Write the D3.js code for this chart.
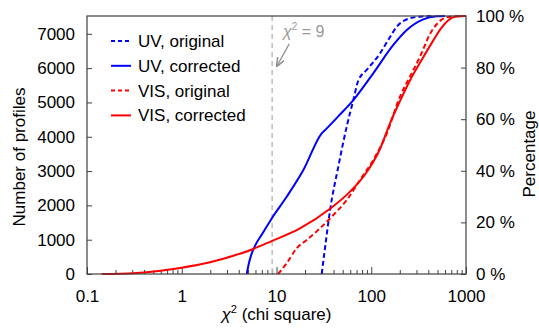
<!DOCTYPE html>
<html>
<head>
<meta charset="utf-8">
<script src="https://cdn.jsdelivr.net/npm/d3@7"></script>
<style>
    body { margin: 0; background: #fff; }
</style>
</head>
<body>
<svg id="chart" width="539" height="328" font-family="Liberation Sans, Arial, sans-serif"></svg>
<script>
// chi^2 value, number of profiles
const uvOriginal = [[30, 0], [33, 900], [36.7, 1850], [44.9, 3128], [55.1, 4300], [64.7, 5072],
    [73, 5640], [89.5, 5947], [124, 6433], [151, 6821], [186, 7209], [257, 7454], [354, 7510], [430, 7520]];
const uvCorrected = [[4.85, 0], [5.05, 250], [5.4, 550], [6.0, 850], [7.0, 1150], [8.9, 1620],
    [12.8, 2250], [19.2, 3030], [30, 4100], [33.5, 4230], [45, 4600], [64.7, 5070],
    [105, 5850], [171, 6675], [237, 7110], [354, 7420], [490, 7510], [600, 7520]];
const visOriginal = [[10.4, 0], [12.8, 312], [16.3, 749], [20.8, 991], [28.8, 1332], [39.8, 1720],
    [55.1, 2157], [76, 2740], [105, 3323], [146, 4101], [201, 5168], [256, 5752], [327, 6335],
    [417, 6996], [554, 7416], [678, 7500], [1000, 7520]];
const visCorrected = [[0.143, 0], [0.308, 25], [0.6, 95], [0.958, 175], [1.99, 340], [3.5, 530],
    [5.69, 730], [8.89, 960], [17.7, 1330], [36.7, 1900], [59.7, 2400], [86, 2900],
    [124, 3650], [158, 4400], [201, 5040], [256, 5640], [354, 6320], [452, 6810], [545, 7160],
    [646, 7390], [784, 7506], [1000, 7520]];

const seriesNames = ['UV, original', 'UV, corrected', 'VIS, original', 'VIS, corrected'];
const seriesData = [uvOriginal, uvCorrected, visOriginal, visCorrected];
const seriesColors = ['#0000ff', '#0000ff', '#ff0000', '#ff0000'];
const seriesDashed = [true, false, true, false];

const totalProfiles = 7520;
const xTickValues = [0.1, 1, 10, 100, 1000];
const xTickLabels = ['0.1', '1', '10', '100', '1000'];
const yTickValues = [0, 1000, 2000, 3000, 4000, 5000, 6000, 7000];
const pctTickValues = [0, 20, 40, 60, 80, 100];
const chiLimit = 9;

const margin = {top: 16, right: 73, bottom: 54, left: 87};
const width = 539 - margin.left - margin.right;
const height = 328 - margin.top - margin.bottom;

const svg = d3.select('#chart');
const g = svg.append('g').attr('transform', `translate(${margin.left},${margin.top})`);

const x = d3.scaleLog().domain([0.1, 1000]).range([0, width]);
const y = d3.scaleLinear().domain([0, totalProfiles]).range([height, 0]);
const yPct = d3.scaleLinear().domain([0, 100]).range([height, 0]);

const axisColor = '#404040';
const fontFamily = 'Liberation Sans, Arial, sans-serif';
const fontSize = 17;

// minor ticks on x
const minorTicks = [];
for (let dec = 0.1; dec < 1000; dec *= 10) {
    for (let k = 2; k <= 9; k++) minorTicks.push(+(dec * k).toPrecision(3));
}

const xAxis = d3.axisBottom(x).tickValues(xTickValues).tickFormat((d, i) => xTickLabels[i])
    .tickSizeInner(-7).tickSizeOuter(0).tickPadding(12);
const xMinor = d3.axisBottom(x).tickValues(minorTicks).tickFormat('').tickSizeInner(-4).tickSizeOuter(0);
const yAxis = d3.axisLeft(y).tickValues(yTickValues).tickFormat(d3.format('d'))
    .tickSizeInner(-5).tickSizeOuter(0).tickPadding(12);
const pctAxis = d3.axisRight(yPct).tickValues(pctTickValues).tickFormat(d => d + ' %')
    .tickSizeInner(-5).tickSizeOuter(0).tickPadding(10);

g.append('g').attr('transform', `translate(0,${height})`).call(xMinor);
g.append('g').attr('class', 'x-axis').attr('transform', `translate(0,${height})`).call(xAxis);
g.append('g').call(yAxis);
g.append('g').attr('transform', `translate(${width},0)`).call(pctAxis);

g.selectAll('.domain').remove();
g.selectAll('.tick line').attr('stroke', axisColor);
g.selectAll('.tick text').attr('font-size', fontSize).attr('fill', '#000')
    .attr('font-family', fontFamily);
g.select('.x-axis').selectAll('.tick text').attr('dy', '0.95em');

// reference line at chi^2 = 9
g.append('line')
    .attr('x1', x(chiLimit)).attr('x2', x(chiLimit))
    .attr('y1', 0).attr('y2', height)
    .attr('stroke', '#bdbdbd').attr('stroke-width', 1.5)
    .attr('stroke-dasharray', '5,4');

// curves
const line = d3.line()
    .x(d => x(d[0]))
    .y(d => y(d[1]))
    .curve(d3.curveMonotoneX);

g.selectAll('.curve')
    .data(seriesData)
    .enter()
    .append('path')
    .attr('class', 'curve')
    .attr('d', line)
    .attr('fill', 'none')
    .attr('stroke', (d, i) => seriesColors[i])
    .attr('stroke-width', 2)
    .attr('stroke-dasharray', (d, i) => seriesDashed[i] ? '5,3' : null);

// frame
g.append('rect')
    .attr('width', width).attr('height', height)
    .attr('fill', 'none').attr('stroke', axisColor).attr('stroke-width', 1.2);

// annotation
const noteText = [11.7, 6894];
const arrowFrom = [13.6, 6705];
const arrowTo = [10.1, 6063];
svg.append('defs').append('marker')
    .attr('id', 'arrow').attr('viewBox', '0 0 10 10')
    .attr('refX', 9).attr('refY', 5)
    .attr('markerWidth', 7).attr('markerHeight', 7)
    .attr('orient', 'auto')
    .append('path').attr('d', 'M0,1 L10,5 L0,9').attr('fill', 'none')
    .attr('stroke', '#8c8c8c').attr('stroke-width', 1.6);
g.append('line')
    .attr('x1', x(arrowFrom[0])).attr('y1', y(arrowFrom[1]))
    .attr('x2', x(arrowTo[0])).attr('y2', y(arrowTo[1]))
    .attr('stroke', '#8c8c8c').attr('stroke-width', 1.3)
    .attr('marker-end', 'url(#arrow)');
const note = g.append('text')
    .attr('x', x(noteText[0])).attr('y', y(noteText[1]))
    .attr('font-size', 16).attr('fill', '#999');
note.append('tspan').attr('font-style', 'italic').text('χ');
note.append('tspan').attr('font-size', 10).attr('dy', -7).text('2');
note.append('tspan').attr('dy', 7).text(' = 9');

// legend
const legend = g.append('g').attr('transform', 'translate(24,25)');
const rows = legend.selectAll('g')
    .data(seriesNames)
    .enter()
    .append('g')
    .attr('transform', (d, i) => `translate(0,${i * 24.8})`);
rows.append('line')
    .attr('x1', 0).attr('x2', 20)
    .attr('stroke', (d, i) => seriesColors[i])
    .attr('stroke-width', 2)
    .attr('stroke-dasharray', (d, i) => seriesDashed[i] ? '4,3' : null);
rows.append('text')
    .attr('x', 27).attr('dy', '0.35em')
    .attr('font-size', fontSize)
    .text(d => d);

// axis titles
const xTitle = svg.append('text')
    .attr('x', margin.left + width / 2).attr('y', 320)
    .attr('text-anchor', 'middle').attr('font-size', fontSize);
xTitle.append('tspan').attr('font-style', 'italic').text('χ');
xTitle.append('tspan').attr('font-size', 11).attr('dy', -7).text('2');
xTitle.append('tspan').attr('dy', 7).text(' (chi square)');

svg.append('text')
    .attr('transform', 'translate(25,157) rotate(-90)')
    .attr('text-anchor', 'middle').attr('font-size', fontSize)
    .text('Number of profiles');
svg.append('text')
    .attr('transform', 'translate(535,154) rotate(-90)')
    .attr('text-anchor', 'middle').attr('font-size', fontSize)
    .text('Percentage');
</script>
</body>
</html>
